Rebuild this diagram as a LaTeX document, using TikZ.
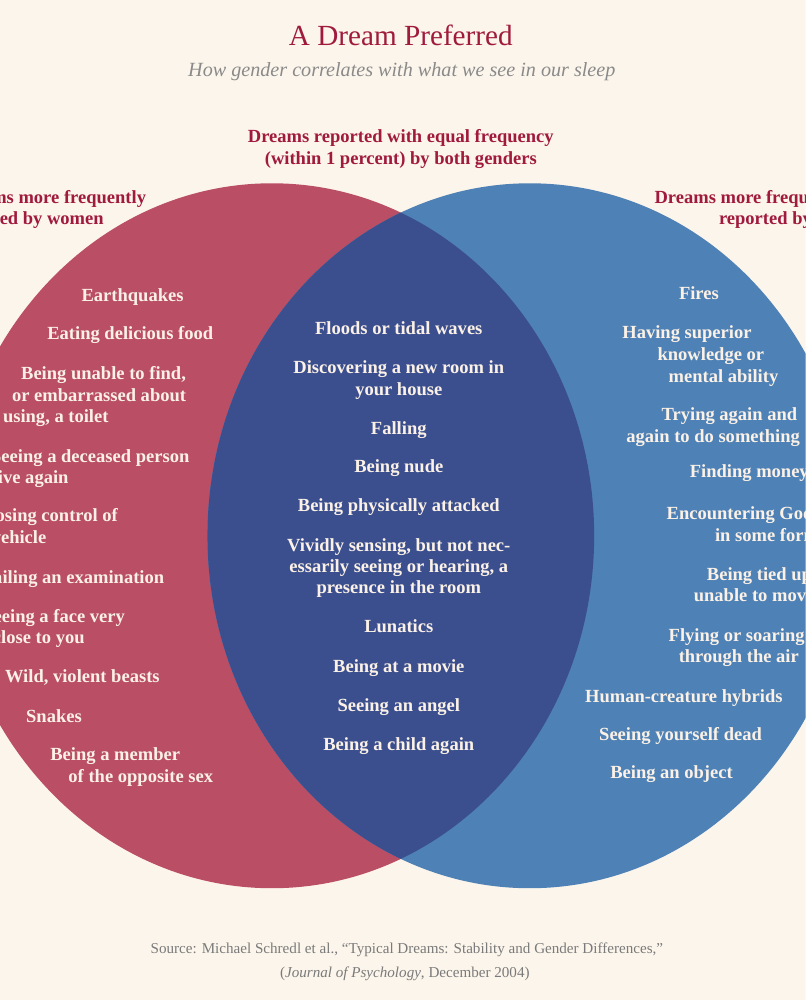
\documentclass[tikz,border=0pt]{standalone}
\usepackage{fontspec}
\setmainfont{Liberation Serif}
\definecolor{bgc}{HTML}{FCF5EB}
\definecolor{redc}{HTML}{B94E64}
\definecolor{bluec}{HTML}{4E81B6}
\definecolor{overc}{HTML}{3B4F8F}
\definecolor{titlec}{HTML}{A01A3D}
\definecolor{itemc}{HTML}{FBF1E6}
\definecolor{subc}{HTML}{8A8A8A}
\definecolor{srcc}{HTML}{7A7A7A}
\begin{document}
\begin{tikzpicture}[x=1pt,y=-1pt,
  lbl/.style={inner sep=0pt, outer sep=0pt},
  item/.style={lbl, text=itemc, font=\bfseries\fontsize{18.4}{21}\selectfont},
  head/.style={lbl, text=titlec, font=\bfseries\fontsize{18.4}{21}\selectfont},
  src/.style={lbl, text=srcc, font=\fontsize{15}{18}\selectfont}]
\useasboundingbox (0,0) rectangle (800,993);
\clip (0,0) rectangle (800,993);
\fill[bgc] (0,0) rectangle (800,993);
% circles
\fill[redc] (270,532) ellipse [x radius=320pt, y radius=350pt];
\fill[bluec] (526,532) ellipse [x radius=320pt, y radius=350pt];
\begin{scope}
\clip (270,532) ellipse [x radius=320pt, y radius=350pt];
\fill[overc] (526,532) ellipse [x radius=320pt, y radius=350pt];
\end{scope}
% titles
\node[lbl, text=titlec, font=\fontsize{29}{32}\selectfont, anchor=mid] (title) at (398,43) {A Dream Preferred};
\node[lbl, text=subc, font=\itshape\fontsize{20}{24}\selectfont, anchor=mid] (subtitle) at (399,74) {How gender correlates with what we see in our sleep};
\node[head, anchor=mid] (hb1) at (398,139) {Dreams reported with equal frequency};
\node[head, anchor=mid] (hb2) at (398,161) {(within 1 percent) by both genders};
\node[head, anchor=mid east] (hw1) at (145,200) {Dreams more frequently};
\node[head, anchor=mid east] (hw2) at (103,221) {reported by women};
\node[head, anchor=mid west] (hm1) at (650,200) {Dreams more frequently};
\node[head, anchor=mid west] (hm2) at (714,221) {reported by men};
% women items
\node[item, anchor=mid west] (w1) at (81,297) {Earthquakes};
\node[item, anchor=mid west] (w2) at (47,335) {Eating delicious food};
\node[item, anchor=mid west] (w3a) at (21,375) {Being unable to find,};
\node[item, anchor=mid west] (w3b) at (12,396) {or embarrassed about};
\node[item, anchor=mid west] (w3c) at (3,417) {using, a toilet};
\node[item, anchor=mid east] (w4a) at (188,457) {Seeing a deceased person};
\node[item, anchor=mid east] (w4b) at (68,478) {alive again};
\node[item, anchor=mid east] (w5a) at (117,516) {Losing control of};
\node[item, anchor=mid east] (w5b) at (46,537) {a vehicle};
\node[item, anchor=mid east] (w6) at (163,577) {Failing an examination};
\node[item, anchor=mid east] (w7a) at (124,616) {Seeing a face very};
\node[item, anchor=mid east] (w7b) at (84,637) {close to you};
\node[item, anchor=mid west] (w8) at (5,675) {Wild, violent beasts};
\node[item, anchor=mid west] (w9) at (26,715) {Snakes};
\node[item, anchor=mid west] (w10a) at (50,753) {Being a member};
\node[item, anchor=mid west] (w10b) at (68,775) {of the opposite sex};
% shared items
\node[item, anchor=mid] (c1) at (396,330) {Floods or tidal waves};
\node[item, anchor=mid] (c2a) at (396,369) {Discovering a new room in};
\node[item, anchor=mid] (c2b) at (396,390) {your house};
\node[item, anchor=mid] (c3) at (396,429) {Falling};
\node[item, anchor=mid] (c4) at (396,467) {Being nude};
\node[item, anchor=mid] (c5) at (396,506) {Being physically attacked};
\node[item, anchor=mid] (c6a) at (396,545) {Vividly sensing, but not nec-};
\node[item, anchor=mid] (c6b) at (396,566) {essarily seeing or hearing, a};
\node[item, anchor=mid] (c6c) at (396,587) {presence in the room};
\node[item, anchor=mid] (c7) at (396,626) {Lunatics};
\node[item, anchor=mid] (c8) at (396,665) {Being at a movie};
\node[item, anchor=mid] (c9) at (396,704) {Seeing an angel};
\node[item, anchor=mid] (c10) at (396,743) {Being a child again};
% men items
\node[item, anchor=mid] (m1) at (694,295) {Fires};
\node[item, anchor=mid west] (m2a) at (618,334) {Having superior};
\node[item, anchor=mid west] (m2b) at (653,356) {knowledge or};
\node[item, anchor=mid west] (m2c) at (664,378) {mental ability};
\node[item, anchor=mid west] (m3a) at (657,415) {Trying again and};
\node[item, anchor=mid west] (m3b) at (622,437) {again to do something};
\node[item, anchor=mid west] (m4) at (685,472) {Finding money};
\node[item, anchor=mid west] (m5a) at (662,514) {Encountering God};
\node[item, anchor=mid west] (m5b) at (710,535) {in some form};
\node[item, anchor=mid west] (m6a) at (702,574) {Being tied up,};
\node[item, anchor=mid west] (m6b) at (689,595) {unable to move};
\node[item, anchor=mid west] (m7a) at (664,635) {Flying or soaring};
\node[item, anchor=mid west] (m7b) at (674,656) {through the air};
\node[item, anchor=mid west] (m8) at (581,695) {Human-creature hybrids};
\node[item, anchor=mid west] (m9) at (595,733) {Seeing yourself dead};
\node[item, anchor=mid west] (m10) at (606,771) {Being an object};
% source
\node[src, anchor=mid] (s1) at (404,945) {Source: Michael Schredl et al., “Typical Dreams: Stability and Gender Differences,”};
\node[src, anchor=mid] (s2) at (402,968) {(\textit{Journal of Psychology}, December 2004)};
\end{tikzpicture}
\end{document}
